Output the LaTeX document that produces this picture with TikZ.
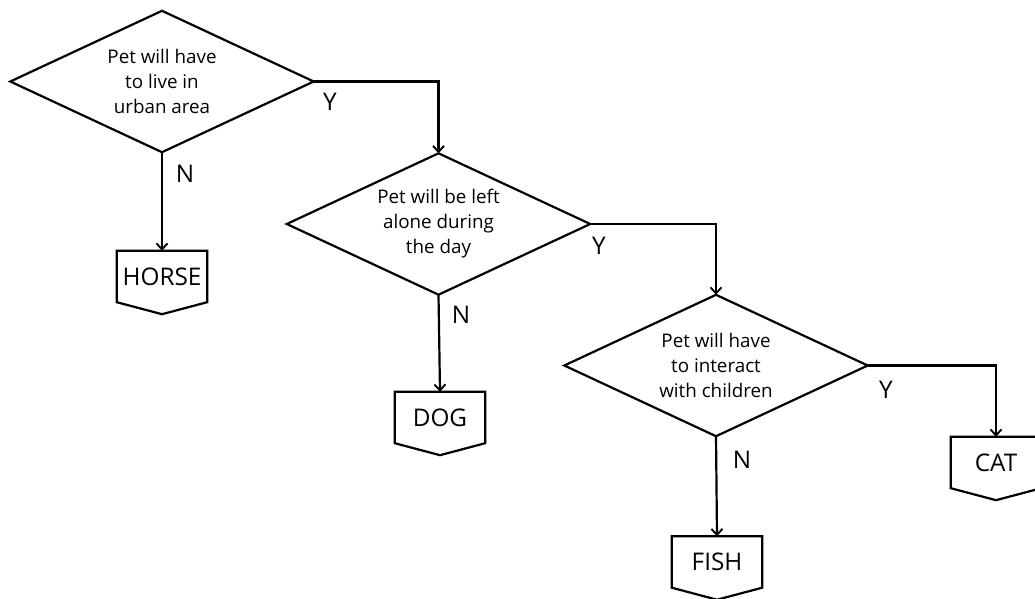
\documentclass[tikz,border=0pt]{standalone}
\usepackage{fontspec}
\setmainfont{Open Sans}
\usetikzlibrary{arrows.meta}
\begin{document}
\begin{tikzpicture}[x=1pt,y=-1pt,
  line/.style={line width=2.2pt, line join=miter},
  arr/.style={line, -{Straight Barb[length=6pt,width=11pt,line width=1.9pt]}},
  decision/.style={minimum width=303pt, minimum height=141pt, inner sep=0pt,
    align=center, font=\fontsize{18.8}{25}\selectfont},
  result/.style={minimum width=90pt, minimum height=51pt, inner sep=0pt,
    font=\fontsize{24.3}{26}\selectfont},
  answer/.style={inner sep=0pt, font=\fontsize{24.3}{26}\selectfont}]
\useasboundingbox (0,0) rectangle (1035,599);

% decisions
\node[decision] (d1) at (162,81.5) {Pet will have\\to live in\\urban area};
\node[decision] (d2) at (438.5,224) {Pet will be left\\alone during\\the day};
\node[decision] (d3) at (716,365.5) {Pet will have\\to interact\\with children};
\foreach \n in {d1,d2,d3}
  \draw[line] (\n.west) -- (\n.north) -- (\n.east) -- (\n.south) -- cycle;

% outcomes
\node[result] (horse) at (162,276.5) {HORSE};
\node[result] (dog) at (440,417.5) {DOG};
\node[result] (fish) at (717,562) {FISH};
\node[result] (cat) at (996,462.5) {CAT};
\foreach \n in {horse,dog,fish,cat}
  \draw[line] (\n.north west) -- (\n.north east) -- (\n.south east)
    -- ([yshift=-12pt]\n.south) -- (\n.south west) -- cycle;

% connectors
\draw[arr] (d1.east) -| (d2.north);
\draw[arr] (d2.east) -| (d3.north);
\draw[arr] (d3.east) -| (cat.north);
\draw[arr] (d1.south) -- (horse.north);
\draw[arr] (d2.south) -- (dog.north);
\draw[arr] (d3.south) -- (fish.north);

% branch labels
\node[answer] (y1) at (330,102) {Y};
\node[answer] (n1) at (185,174) {N};
\node[answer] (y2) at (599,246) {Y};
\node[answer] (n2) at (461,315) {N};
\node[answer] (y3) at (886,390) {Y};
\node[answer] (n3) at (742,460) {N};
\end{tikzpicture}
\end{document}
